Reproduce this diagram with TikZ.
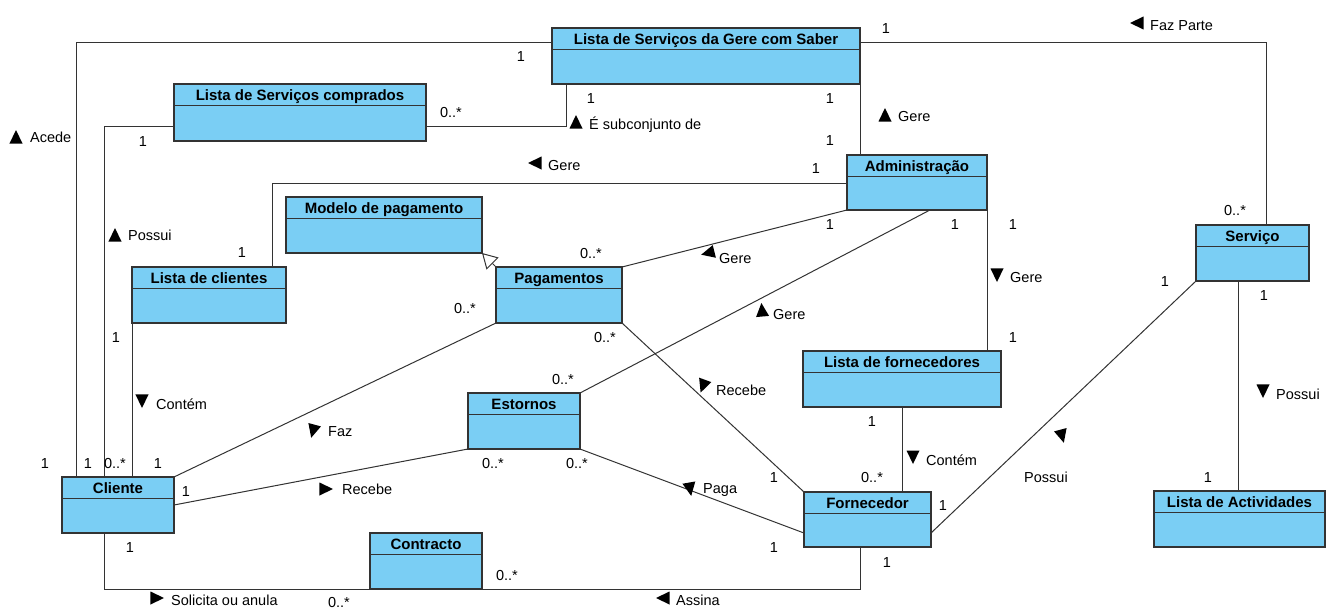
\documentclass[tikz,border=0pt]{standalone}
\usepackage{fontspec}
\setmainfont{Liberation Sans}
\usetikzlibrary{arrows.meta}

\definecolor{classfill}{RGB}{122,206,244}
\definecolor{lineclr}{RGB}{51,51,51}

\tikzset{
  classbox/.style={draw=lineclr, fill=classfill, line width=1.1pt, inner sep=0pt, outer sep=0pt},
  hdrline/.style={draw=lineclr, line width=1.1pt},
  classtitle/.style={font=\fontsize{15}{18}\selectfont\bfseries, inner sep=0pt, text height=11pt, text depth=0pt},
  assoc/.style={draw=lineclr, line width=1pt},
  lbl/.style={font=\fontsize{14.5}{17}\selectfont, inner sep=0pt, text height=10.5pt, text depth=0pt, anchor=west},
  mult/.style={font=\fontsize{14.5}{17}\selectfont, inner sep=0pt, text height=10.5pt, text depth=0pt},
  gen/.style={assoc, -{Triangle[open, length=15pt, width=17pt, fill=white]}},
}

% class box: name, left, top, width, height, title
\newcommand\umlclass[6]{%
  \node[classbox, minimum width=#4pt, minimum height=#5pt, anchor=north west] (#1) at (#2,#3) {};
  \draw[hdrline] ([yshift=-21.5pt]#1.north west) -- ([yshift=-21.5pt]#1.north east);
  \node[classtitle] (#1-t) at ([yshift=-11pt]#1.north) {#6};
}

% reading-direction mark: centre x, centre y, pointing angle (counter-clockwise, 0 = right)
\newcommand\dirmark[3]{%
  \fill[shift={(#1,#2)}] (#3:7pt) -- (#3+135:9.2pt) -- (#3-135:9.2pt) -- cycle;
}

\begin{document}
\begin{tikzpicture}[x=1pt, y=-1pt]
\useasboundingbox (0,0) rectangle (1326,608);

% classes
\umlclass{gere}{552}{28}{308}{56}{Lista de Serviços da Gere com Saber}
\umlclass{comprados}{174}{84}{252}{57}{Lista de Serviços comprados}
\umlclass{admin}{847}{155}{140}{55}{Administração}
\umlclass{servico}{1196}{225}{113}{56}{Serviço}
\umlclass{modelo}{286}{197}{196}{56}{Modelo de pagamento}
\umlclass{lclientes}{132}{267}{154}{56}{Lista de clientes}
\umlclass{pagamentos}{496}{267}{126}{56}{Pagamentos}
\umlclass{estornos}{468}{393}{112}{56}{Estornos}
\umlclass{lforn}{803}{351}{198}{56}{Lista de fornecedores}
\umlclass{fornecedor}{804}{492}{127}{55}{Fornecedor}
\umlclass{lativ}{1154}{491}{171}{56}{Lista de Actividades}
\umlclass{cliente}{62}{477}{112}{56}{Cliente}
\umlclass{contracto}{370}{533}{112}{56}{Contracto}

% associations
\draw[assoc] ([xshift=14pt]cliente.north west) |- ([yshift=-14pt]gere.north west);
\draw[assoc] ([xshift=42pt]cliente.north west) |- ([yshift=-42pt]comprados.north west);
\draw[assoc] (lclientes.south west) -- (lclientes.south west |- cliente.north);
\draw[assoc] ([yshift=-28pt]admin.north west) -| ([xshift=140pt]lclientes.north west);
\draw[assoc] ([yshift=-42pt]comprados.north east) -| ([xshift=14pt]gere.south west);
\draw[assoc] (gere.south east) -- (gere.south east |- admin.north);
\draw[assoc] ([yshift=-14pt]gere.north east) -| ([xshift=70pt]servico.north west);
\draw[assoc] (admin.south west) -- (pagamentos.north east);
\draw[assoc] ([xshift=83pt]admin.south west) -- (estornos.north east);
\draw[assoc] (admin.south east) -- (admin.south east |- lforn.north);
\draw[assoc] (cliente.north east) -- (pagamentos.south west);
\draw[assoc] ([yshift=-28pt]cliente.north east) -- (estornos.south west);
\draw[assoc] (pagamentos.south east) -- (fornecedor.north west);
\draw[assoc] (estornos.south east) -- ([yshift=-41pt]fornecedor.north west);
\draw[assoc] ([xshift=99pt]lforn.south west) -- ([xshift=99pt]lforn.south west |- fornecedor.north);
\draw[assoc] (servico.south west) -- ([yshift=-41pt]fornecedor.north east);
\draw[assoc] ([xshift=42pt]servico.south west) -- ([xshift=42pt]servico.south west |- lativ.north);
\draw[assoc] ([xshift=42pt]cliente.south west) |- (contracto.south west);
\draw[assoc] ([xshift=56pt]fornecedor.south west) |- (contracto.south east);

% generalization
\draw[gen] (pagamentos.north west) -- (modelo.south east);

% association names with direction marks
\dirmark{16}{137}{90}
\node[lbl] (n-acede) at (30,137) {Acede};
\dirmark{115}{235}{90}
\node[lbl] (n-possui1) at (128,235) {Possui};
\dirmark{142}{401}{-90}
\node[lbl] (n-contem1) at (156,404) {Contém};
\dirmark{535}{163}{180}
\node[lbl] (n-gere1) at (548,165) {Gere};
\dirmark{576}{122}{90}
\node[lbl] (n-subc) at (589,124) {É subconjunto de};
\dirmark{885}{115}{90}
\node[lbl] (n-gere2) at (898,116) {Gere};
\dirmark{1137}{23}{180}
\node[lbl] (n-fazparte) at (1150,25) {Faz Parte};
\dirmark{997}{275}{-90}
\node[lbl] (n-gere3) at (1010,277) {Gere};
\dirmark{708}{253}{194}
\node[lbl] (n-gere4) at (719,258) {Gere};
\dirmark{762}{310}{95}
\node[lbl] (n-gere5) at (773,314) {Gere};
\dirmark{703}{386}{-110}
\node[lbl] (n-recebe1) at (716,390) {Recebe};
\dirmark{313}{431}{-105}
\node[lbl] (n-faz) at (328,431) {Faz};
\dirmark{326}{489}{0}
\node[lbl] (n-recebe2) at (342,489) {Recebe};
\dirmark{690}{489}{-80}
\node[lbl] (n-paga) at (703,488) {Paga};
\dirmark{913}{457}{-90}
\node[lbl] (n-contem2) at (926,460) {Contém};
\dirmark{1062}{436}{-75}
\node[lbl] (n-possui2) at (1024,477) {Possui};
\dirmark{1263}{391}{-90}
\node[lbl] (n-possui3) at (1276,394) {Possui};
\dirmark{157}{598}{0}
\node[lbl] (n-solicita) at (171,600) {Solicita ou anula};
\dirmark{663}{598}{180}
\node[lbl] (n-assina) at (676,600) {Assina};

% multiplicities
\node[mult] (m1) at (45,463) {1};
\node[mult] (m2) at (521,56) {1};
\node[mult] (m3) at (88,463) {1};
\node[mult] (m4) at (143,141) {1};
\node[mult] (m5) at (116,337) {1};
\node[mult] (m6) at (115,463) {0..*};
\node[mult] (m7) at (816,168) {1};
\node[mult] (m8) at (242,252) {1};
\node[mult] (m9) at (451,112) {0..*};
\node[mult] (m10) at (591,98) {1};
\node[mult] (m11) at (830,98) {1};
\node[mult] (m12) at (830,140) {1};
\node[mult] (m13) at (886,28) {1};
\node[mult] (m14) at (1235,210) {0..*};
\node[mult] (m15) at (830,224) {1};
\node[mult] (m16) at (591,253) {0..*};
\node[mult] (m17) at (955,224) {1};
\node[mult] (m18) at (563,379) {0..*};
\node[mult] (m19) at (1013,224) {1};
\node[mult] (m20) at (1013,337) {1};
\node[mult] (m21) at (158,463) {1};
\node[mult] (m22) at (465,308) {0..*};
\node[mult] (m23) at (186,491) {1};
\node[mult] (m24) at (493,463) {0..*};
\node[mult] (m25) at (605,337) {0..*};
\node[mult] (m26) at (774,477) {1};
\node[mult] (m27) at (577,463) {0..*};
\node[mult] (m28) at (774,547) {1};
\node[mult] (m29) at (872,421) {1};
\node[mult] (m30) at (872,477) {0..*};
\node[mult] (m31) at (1165,281) {1};
\node[mult] (m32) at (943,505) {1};
\node[mult] (m33) at (1264,295) {1};
\node[mult] (m34) at (1208,477) {1};
\node[mult] (m35) at (130,547) {1};
\node[mult] (m36) at (339,602) {0..*};
\node[mult] (m37) at (887,562) {1};
\node[mult] (m38) at (507,575) {0..*};
\end{tikzpicture}
\end{document}
